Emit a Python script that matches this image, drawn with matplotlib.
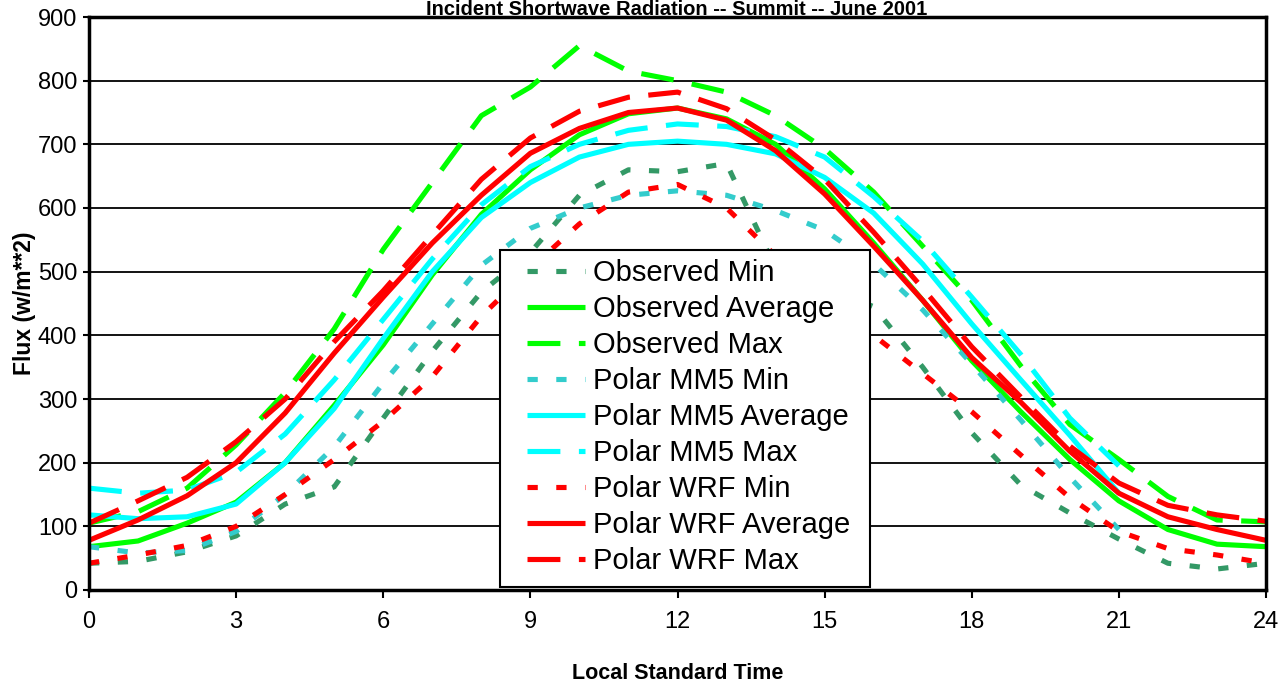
import matplotlib
matplotlib.use('Agg')
import matplotlib.pyplot as plt
from matplotlib.patches import Rectangle
import numpy as np

# Hours 0..24 (local standard time)
hours = list(range(25))
nan = np.nan

obs_min = [42, 45, 60, 85, 135, 162, 270, 375, 468, 530, 620, 660, 657, 670, 505,
           475, 445, 350, 247, 165, 121, 80, 42, 33, 42]
obs_avg = [68, 77, 105, 138, 200, 290, 385, 495, 590, 660, 715, 748, 757, 740, 700,
           630, 545, 455, 360, 280, 205, 140, 95, 72, 68]
obs_max = [105, 123, 160, 228, 310, 410, 535, 640, 745, 790, 855, 815, 800, 782, 745,
           693, 625, 540, 455, 352, 260, 205, 147, 110, 107]

mm5_min = [68, 58, 62, 92, 150, 225, 325, 418, 510, 568, 600, 620, 627, 620, 596,
           565, 512, 440, 355, 267, 177, 95, nan, nan, nan]
mm5_avg = [118, 112, 115, 135, 200, 285, 395, 500, 585, 640, 680, 700, 705, 700, 685,
           648, 592, 512, 418, 330, 243, 152, nan, nan, nan]
mm5_max = [160, 152, 157, 185, 245, 330, 425, 520, 605, 665, 700, 722, 732, 728, 712,
           680, 618, 548, 460, 370, 270, 195, nan, nan, nan]

wrf_min = [42, 55, 70, 100, 150, 205, 265, 335, 430, 505, 575, 625, 637, 600, 525,
           470, 400, 340, 280, 212, 145, 92, 65, 55, 42]
wrf_avg = [78, 110, 148, 200, 278, 372, 460, 545, 620, 686, 725, 750, 757, 738, 690,
           622, 540, 455, 365, 295, 218, 152, 115, 95, 78]
wrf_max = [105, 140, 177, 233, 300, 390, 470, 558, 645, 710, 752, 774, 782, 756, 707,
           645, 562, 474, 382, 303, 226, 168, 133, 118, 108]

series = [
    ('Observed Min', obs_min, '#339966', 'min'),
    ('Observed Average', obs_avg, '#00FF00', 'avg'),
    ('Observed Max', obs_max, '#00FF00', 'max'),
    ('Polar MM5 Min', mm5_min, '#33CCCC', 'min'),
    ('Polar MM5 Average', mm5_avg, '#00FFFF', 'avg'),
    ('Polar MM5 Max', mm5_max, '#00FFFF', 'max'),
    ('Polar WRF Min', wrf_min, '#FF0000', 'min'),
    ('Polar WRF Average', wrf_avg, '#FF0000', 'avg'),
    ('Polar WRF Max', wrf_max, '#FF0000', 'max'),
]
dash_styles = {'min': (0, (2.0, 3.6)), 'avg': '-', 'max': (0, (6.4, 3.6))}

fig = plt.figure(figsize=(12.78, 6.84), dpi=100)
ax = fig.add_axes([89 / 1278, 1 - 590 / 684, 1177 / 1278, 573 / 684])

for label, vals, color, kind in series:
    ax.plot(hours, vals, color=color, linestyle=dash_styles[kind], linewidth=3.7,
            label=label, solid_capstyle='butt')

ax.set_xlim(0, 24)
ax.set_ylim(0, 900)
ax.set_xticks(range(0, 25, 3))
ax.set_yticks(range(0, 901, 100))
ax.yaxis.grid(True, color='black', linewidth=1.3)
ax.set_axisbelow(True)
for sp in ax.spines.values():
    sp.set_linewidth(2.5)

ax.tick_params(axis='y', direction='out', length=4.5, width=1.5, pad=4)
ax.tick_params(axis='x', direction='out', length=6, width=1.5, pad=9)
for lab in ax.get_xticklabels() + ax.get_yticklabels():
    lab.set_fontfamily('Liberation Sans')
    lab.set_fontsize(17)

ax.set_xlabel('Local Standard Time', fontsize=15.5, fontweight='bold',
              family='Liberation Sans', labelpad=22)
ax.set_ylabel('Flux (w/m**2)', fontsize=16.5, fontweight='bold',
              family='Liberation Sans', labelpad=1)

fig.text(677 / 1278, 1 - 15 / 684, 'Incident Shortwave Radiation -- Summit -- June 2001',
         ha='center', va='baseline', fontsize=14.5, fontweight='bold', family='Liberation Sans')

# legend box drawn separately so its padding matches the original
ax.add_patch(Rectangle((0.3492, 0.0052), 0.3144, 0.5882, transform=ax.transAxes,
                       facecolor='white', edgecolor='black', linewidth=1.5, zorder=5))
leg = ax.legend(loc='upper left', bbox_to_anchor=(0.372, 0.578), frameon=False,
                prop={'family': 'Liberation Sans', 'size': 21},
                handlelength=2.0, handletextpad=0.28, labelspacing=0.275,
                borderpad=0, borderaxespad=0)
leg.set_zorder(6)

fig.savefig('out.png', dpi=100)
